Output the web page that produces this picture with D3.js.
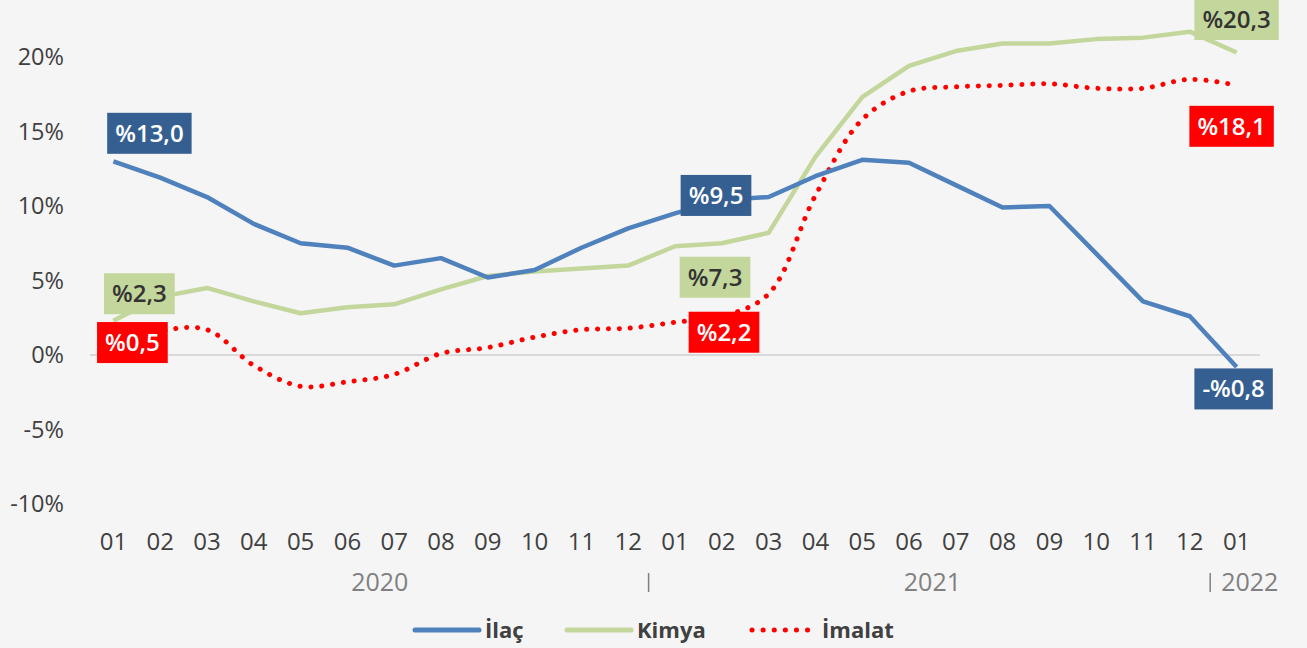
<!DOCTYPE html>
<html>
<head>
<meta charset="utf-8">
<script src="https://cdnjs.cloudflare.com/ajax/libs/d3/7.8.5/d3.min.js"></script>
<style>
  html, body { margin: 0; padding: 0; background: #f5f5f5; }
  svg { display: block; }
  text { font-family: "Open Sans", "Noto Sans", sans-serif; }
</style>
</head>
<body>
<svg id="chart"></svg>
<script>
// --- data ---
var months = ["01","02","03","04","05","06","07","08","09","10","11","12",
              "01","02","03","04","05","06","07","08","09","10","11","12","01"];
var years = ["2020", "2021", "2022"];
var yearStart = [0, 12, 24];   // index of first month of each year
var yTicks = [-10, -5, 0, 5, 10, 15, 20];

var ilac   = [13.0, 11.9, 10.6, 8.8, 7.5, 7.2, 6.0, 6.5, 5.2, 5.7, 7.2, 8.5,
              9.5, 10.4, 10.6, 12.0, 13.1, 12.9, 11.4, 9.9, 10.0, 6.8, 3.6, 2.6, -0.8];
var kimya  = [2.3, 3.9, 4.5, 3.6, 2.8, 3.2, 3.4, 4.4, 5.3, 5.6, 5.8, 6.0,
              7.3, 7.5, 8.2, 13.3, 17.3, 19.4, 20.4, 20.9, 20.9, 21.2, 21.3, 21.7, 20.3];
var imalat = [0.5, 1.6, 1.7, -0.7, -2.1, -1.8, -1.3, 0.1, 0.5, 1.2, 1.7, 1.8,
              2.2, 2.6, 4.1, 10.7, 15.8, 17.7, 18.0, 18.1, 18.2, 17.9, 17.9, 18.5, 18.1];

var seriesNames = ["İlaç", "Kimya", "İmalat"];
var labelPoints = [0, 12, 24]; // months with value labels

// --- layout ---
var width = 1307, height = 648;
var left = 90, right = 1260, yTop = 57, yBottom = 504;

var svg = d3.select("#chart").attr("width", width).attr("height", height);
svg.append("rect").attr("width", width).attr("height", height).attr("fill", "#f5f5f5");

var x = d3.scaleBand().domain(d3.range(months.length)).range([left, right]);
var y = d3.scaleLinear().domain([-10, 20]).range([yBottom, yTop]);
function cx(i) { return x(i) + x.bandwidth() / 2; }

// zero line
svg.append("line")
  .attr("x1", left).attr("x2", right)
  .attr("y1", y(0)).attr("y2", y(0))
  .attr("stroke", "#d9d9d9").attr("stroke-width", 2);

// y axis labels
var yAxis = d3.axisLeft(y).tickValues(yTicks).tickSize(0).tickPadding(0)
  .tickFormat(function (d) { return d + "%"; });
var yg = svg.append("g").attr("transform", "translate(64,0)").call(yAxis);
yg.select(".domain").remove();
yg.selectAll("text").attr("font-size", 23.5).attr("fill", "#404040")
  .style("font-family", "'Open Sans', sans-serif");

// x axis: months
var xAxis = d3.axisBottom(x).tickSize(0).tickPadding(0)
  .tickFormat(function (d) { return months[d]; });
var xg = svg.append("g").attr("transform", "translate(0,533)").call(xAxis);
xg.select(".domain").remove();
xg.selectAll("text").attr("font-size", 24).attr("fill", "#404040")
  .style("font-family", "'Open Sans', sans-serif");

// year labels and separators
var yearDx = [9, 0, 8];
years.forEach(function (yr, k) {
  var a = yearStart[k];
  var b = k + 1 < years.length ? yearStart[k + 1] : months.length;
  var x0 = x(a), x1 = x(b - 1) + x.bandwidth();
  if (k > 0) {
    svg.append("line").attr("x1", x0 - 3).attr("x2", x0 - 3)
      .attr("y1", 573).attr("y2", 592)
      .attr("stroke", "#808080").attr("stroke-width", 1.5);
  }
  svg.append("text")
    .attr("x", (k === years.length - 1 ? x0 : (x0 + x1) / 2) + yearDx[k])
    .attr("y", 591)
    .attr("text-anchor", k === years.length - 1 ? "start" : "middle")
    .attr("font-size", 25).attr("fill", "#808080")
    .text(yr);
});

// lines
var straight = d3.line().x(function (d, i) { return cx(i); }).y(function (d) { return y(d); });
var smooth = d3.line().x(function (d, i) { return cx(i); }).y(function (d) { return y(d); })
  .curve(d3.curveCatmullRom.alpha(0.5));

svg.append("path").datum(kimya).attr("d", straight)
  .attr("fill", "none").attr("stroke", "#c3d69b").attr("stroke-width", 4.5)
  .attr("stroke-linejoin", "round");
svg.append("path").datum(imalat).attr("d", smooth)
  .attr("fill", "none").attr("stroke", "#ff0000").attr("stroke-width", 5)
  .attr("stroke-linecap", "round").attr("stroke-dasharray", "0.1 10.8");
svg.append("path").datum(ilac).attr("d", straight)
  .attr("fill", "none").attr("stroke", "#4f81bd").attr("stroke-width", 4.5)
  .attr("stroke-linejoin", "round");

// value labels
function fmt(v) {
  return (v < 0 ? "-" : "") + "%" + Math.abs(v).toFixed(1).replace(".", ",");
}
var labelStyles = [
  { values: ilac,   fill: "#365f91", color: "#ffffff", offsets: [[36, -28], [41, -18], [-3, 22]] },
  { values: kimya,  fill: "#c3d69b", color: "#333333", offsets: [[26, -27], [40, 31], [0, -33]] },
  { values: imalat, fill: "#ff0000", color: "#ffffff", offsets: [[19, -5], [49, 10], [-5, 41]] }
];
var labelsG = svg.append("g");
labelStyles.forEach(function (s) {
  labelPoints.forEach(function (i, k) {
    var px = cx(i) + s.offsets[k][0], py = y(s.values[i]) + s.offsets[k][1];
    var g = labelsG.append("g").attr("transform", "translate(" + px + "," + py + ")");
    var t = g.append("text")
      .attr("text-anchor", "middle").attr("dy", "0.35em")
      .attr("font-size", 24).attr("font-weight", 600).attr("fill", s.color)
      .text(fmt(s.values[i]));
    var w = t.node().getComputedTextLength() + 16;
    g.insert("rect", "text")
      .attr("x", -w / 2).attr("y", -20.5).attr("width", w).attr("height", 41)
      .attr("fill", s.fill);
  });
});

// legend
var legend = [
  { name: seriesNames[0], color: "#4f81bd", x0: 415, dash: null },
  { name: seriesNames[1], color: "#c3d69b", x0: 567, dash: null },
  { name: seriesNames[2], color: "#ff0000", x0: 752, dash: "0.1 11" }
];
legend.forEach(function (l) {
  svg.append("line")
    .attr("x1", l.x0).attr("x2", l.x0 + 64)
    .attr("y1", 630).attr("y2", 630)
    .attr("stroke", l.color).attr("stroke-width", 5)
    .attr("stroke-linecap", "round")
    .attr("stroke-dasharray", l.dash);
  svg.append("text")
    .attr("x", l.x0 + 70).attr("y", 638)
    .attr("font-size", 22).attr("font-weight", 700).attr("fill", "#404040")
    .text(l.name);
});
</script>
</body>
</html>
